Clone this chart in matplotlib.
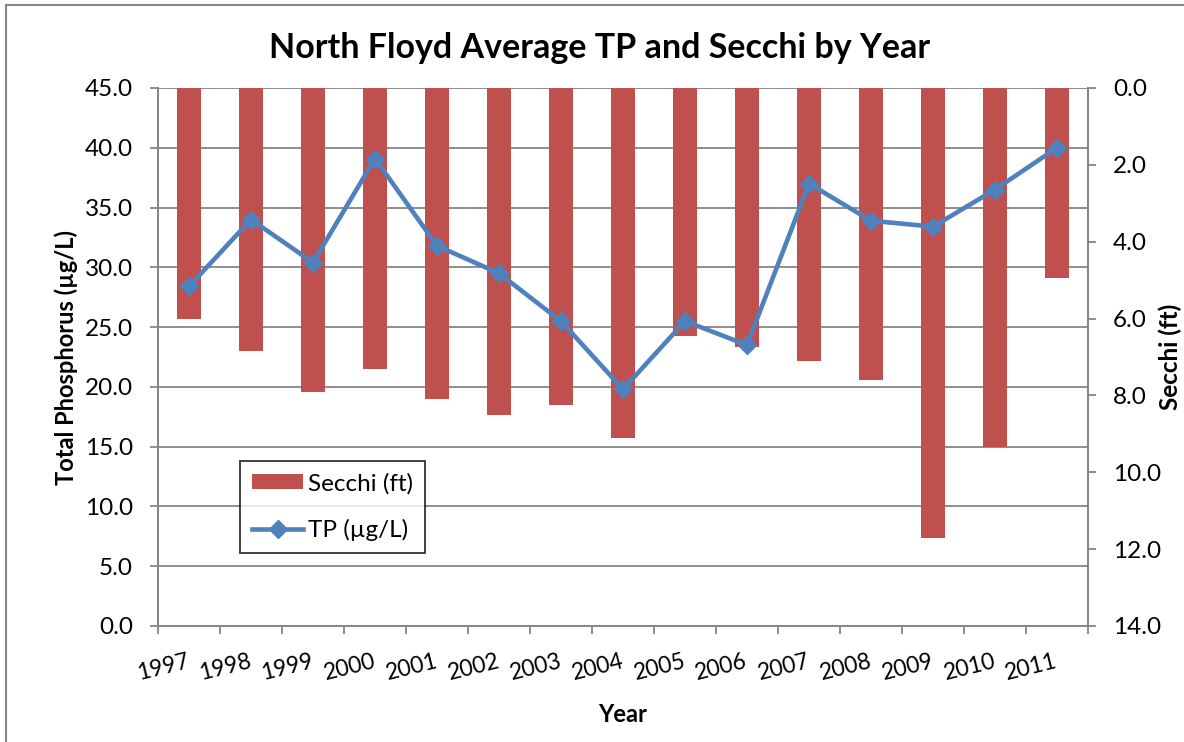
import matplotlib
matplotlib.use("Agg")
import matplotlib.pyplot as plt
from matplotlib.patches import Rectangle
import numpy as np

plt.rcParams['font.family'] = ['Lato', 'DejaVu Sans']

years = ['1997', '1998', '1999', '2000', '2001', '2002', '2003', '2004',
         '2005', '2006', '2007', '2008', '2009', '2010', '2011']
secchi = [6.0, 6.85, 7.9, 7.3, 8.1, 8.5, 8.25, 9.1, 6.45, 6.75, 7.1, 7.6, 11.7, 9.35, 4.95]
tp = [28.4, 34.0, 30.4, 39.1, 31.8, 29.5, 25.5, 19.8, 25.5, 23.5, 37.0, 33.9, 33.4, 36.5, 40.0]

left_ticks = np.arange(0, 45.1, 5)
right_ticks = np.arange(0, 14.1, 2)

bar_color = '#C0504D'
line_color = '#4F81BD'
axis_gray = '#868686'

fig = plt.figure(figsize=(11.84, 7.42), dpi=100)
ax = fig.add_axes([158/1184, 1-626/742, (1088-158)/1184, (626-88)/742])
ax2 = ax.twinx()

x = np.arange(len(years))

# left axis
ax.set_xlim(-0.5, len(years) - 0.5)
ax.set_ylim(0, 45)
ax.set_yticks(left_ticks)
ax.set_yticklabels([f'{v:.1f}' for v in left_ticks])
ax.yaxis.grid(True, color=axis_gray, linewidth=1.3)
ax.set_axisbelow(True)

# right axis (inverted)
bars = ax2.bar(x, secchi, width=0.4, color=bar_color, zorder=2, label='Secchi (ft)')
ax2.set_ylim(14, 0)
ax2.set_yticks(right_ticks)
ax2.set_yticklabels([f'{v:.1f}' for v in right_ticks])
line, = ax2.plot(x, tp, color=line_color, linewidth=3.3, marker='D', markersize=9.5,
                 transform=ax.transData, zorder=3, label='TP (µg/L)')

# x ticks: major at boundaries, labels at centres
ax.set_xticks(np.arange(-0.5, len(years), 1.0))
ax.set_xticklabels([])
ax.set_xticks(x, minor=True)
ax.set_xticklabels(years, minor=True, rotation=14, ha='right', va='center',
                   rotation_mode='anchor', fontsize=16.5)
ax.tick_params(axis='x', which='minor', length=0, pad=25)
ax.tick_params(axis='x', which='major', length=6, width=1.3, color=axis_gray, direction='out')
ax.tick_params(axis='y', length=6, width=1.3, color=axis_gray, labelsize=17.5, pad=12)
ax2.tick_params(axis='y', length=6, width=1.3, color=axis_gray, labelsize=17.5, pad=12)

for a in (ax, ax2):
    a.spines['top'].set_visible(False)
    for s in ('left', 'right', 'bottom'):
        a.spines[s].set_color(axis_gray)
        a.spines[s].set_linewidth(1.3)

ax.set_ylabel('Total Phosphorus (µg/L)', fontsize=17, fontweight='bold', va='center')
ax.yaxis.set_label_coords((66 - 158) / 930, 0.5)
ax2.set_ylabel('Secchi (ft)', fontsize=17.5, fontweight='bold', rotation=90, va='center')
ax2.yaxis.set_label_coords((1170 - 158) / 930, 0.5)
ax.set_xlabel('Year', fontsize=17, fontweight='bold', va='center')
ax.xaxis.set_label_coords(0.5, (626 - 715) / 538)

fig.text(600/1184, 1-48/742, 'North Floyd Average TP and Secchi by Year',
         ha='center', va='center', fontsize=24.5, fontweight='bold')

leg = ax2.legend([bars, line], ['Secchi (ft)', 'TP (µg/L)'],
                 loc='lower left', bbox_to_anchor=(0.088, 0.136), borderaxespad=0,
                 fontsize=17.5, frameon=True, fancybox=False, handlelength=2.1,
                 handleheight=0.6, labelspacing=1.0, borderpad=0.5, handletextpad=0.2)
leg.get_frame().set_edgecolor('black')
leg.get_frame().set_linewidth(1.3)

# outer chart border
fig.patches.append(Rectangle((6/1184, -0.1), 1.2, 1 - 5/742 + 0.1, transform=fig.transFigure,
                             fill=False, edgecolor=axis_gray, linewidth=1.5))

fig.savefig('out.png', dpi=100)
